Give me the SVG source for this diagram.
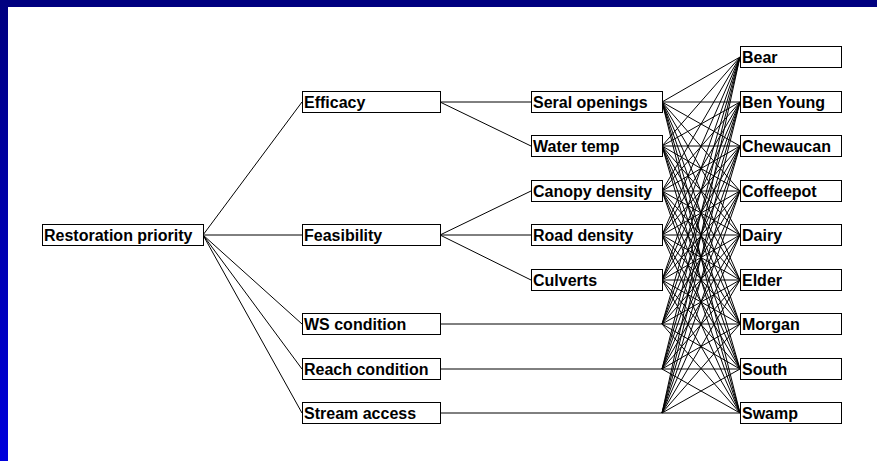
<svg xmlns="http://www.w3.org/2000/svg" width="877" height="461" viewBox="0 0 877 461">
  <defs>
    <linearGradient id="sideBand" x1="0" y1="0" x2="0" y2="1">
      <stop offset="0" stop-color="#000080"/>
      <stop offset="1" stop-color="#0000dc"/>
    </linearGradient>
    <style>
      .box { fill: #ffffff; stroke: #000000; stroke-width: 1; }
      .lbl { font-family: "Liberation Sans", Arial, sans-serif; font-weight: bold; font-size: 16px; fill: #000000; }
      .wire { stroke: #000000; stroke-width: 1; fill: none; }
    </style>
  </defs>

  <!-- page background with blue frame bands -->
  <rect x="0" y="0" width="877" height="461" fill="#ffffff"/>
  <rect x="0" y="0" width="877" height="7" fill="#000080"/>
  <rect x="0" y="0" width="8" height="461" fill="url(#sideBand)"/>

  <!-- connectors -->
  <g id="connectors" class="wire">
    <!-- root to criteria -->
    <line x1="203" y1="235" x2="302" y2="102"/>
    <line x1="203" y1="235" x2="302" y2="235"/>
    <line x1="203" y1="235" x2="302" y2="324"/>
    <line x1="203" y1="235" x2="302" y2="369"/>
    <line x1="203" y1="235" x2="302" y2="413"/>
    <!-- efficacy sub-criteria -->
    <line x1="440" y1="102" x2="531" y2="102"/>
    <line x1="440" y1="102" x2="531" y2="146"/>
    <!-- feasibility sub-criteria -->
    <line x1="440" y1="235" x2="531" y2="191"/>
    <line x1="440" y1="235" x2="531" y2="235"/>
    <line x1="440" y1="235" x2="531" y2="280"/>
    <!-- direct criteria carried through -->
    <line x1="440" y1="324" x2="662" y2="324"/>
    <line x1="440" y1="369" x2="662" y2="369"/>
    <line x1="440" y1="413" x2="662" y2="413"/>
    <!-- every criterion to every watershed -->
    <g id="fan">
      <path d="M662 102 L740 57 M662 102 L740 102 M662 102 L740 146 M662 102 L740 191 M662 102 L740 235 M662 102 L740 280 M662 102 L740 324 M662 102 L740 369 M662 102 L740 413"/>
      <path d="M662 146 L740 57 M662 146 L740 102 M662 146 L740 146 M662 146 L740 191 M662 146 L740 235 M662 146 L740 280 M662 146 L740 324 M662 146 L740 369 M662 146 L740 413"/>
      <path d="M662 191 L740 57 M662 191 L740 102 M662 191 L740 146 M662 191 L740 191 M662 191 L740 235 M662 191 L740 280 M662 191 L740 324 M662 191 L740 369 M662 191 L740 413"/>
      <path d="M662 235 L740 57 M662 235 L740 102 M662 235 L740 146 M662 235 L740 191 M662 235 L740 235 M662 235 L740 280 M662 235 L740 324 M662 235 L740 369 M662 235 L740 413"/>
      <path d="M662 280 L740 57 M662 280 L740 102 M662 280 L740 146 M662 280 L740 191 M662 280 L740 235 M662 280 L740 280 M662 280 L740 324 M662 280 L740 369 M662 280 L740 413"/>
      <path d="M662 324 L740 57 M662 324 L740 102 M662 324 L740 146 M662 324 L740 191 M662 324 L740 235 M662 324 L740 280 M662 324 L740 324 M662 324 L740 369 M662 324 L740 413"/>
      <path d="M662 369 L740 57 M662 369 L740 102 M662 369 L740 146 M662 369 L740 191 M662 369 L740 235 M662 369 L740 280 M662 369 L740 324 M662 369 L740 369 M662 369 L740 413"/>
      <path d="M662 413 L740 57 M662 413 L740 102 M662 413 L740 146 M662 413 L740 191 M662 413 L740 235 M662 413 L740 280 M662 413 L740 324 M662 413 L740 369 M662 413 L740 413"/>
    </g>
  </g>

  <!-- goal -->
  <g id="restoration-priority"><rect class="box" x="42.5" y="224.5" width="161" height="21"/><text class="lbl" x="44" y="241">Restoration priority</text></g>

  <!-- criteria -->
  <g id="efficacy"><rect class="box" x="302.5" y="91.5" width="138" height="21"/><text class="lbl" x="304" y="108">Efficacy</text></g>
  <g id="feasibility"><rect class="box" x="302.5" y="224.5" width="138" height="21"/><text class="lbl" x="304" y="241">Feasibility</text></g>
  <g id="ws-condition"><rect class="box" x="302.5" y="313.5" width="138" height="21"/><text class="lbl" x="304" y="330">WS condition</text></g>
  <g id="reach-condition"><rect class="box" x="302.5" y="358.5" width="138" height="21"/><text class="lbl" x="304" y="375">Reach condition</text></g>
  <g id="stream-access"><rect class="box" x="302.5" y="402.5" width="138" height="21"/><text class="lbl" x="304" y="419">Stream access</text></g>

  <!-- sub-criteria -->
  <g id="seral-openings"><rect class="box" x="531.5" y="91.5" width="131" height="21"/><text class="lbl" x="533" y="108">Seral openings</text></g>
  <g id="water-temp"><rect class="box" x="531.5" y="135.5" width="131" height="21"/><text class="lbl" x="533" y="152">Water temp</text></g>
  <g id="canopy-density"><rect class="box" x="531.5" y="180.5" width="131" height="21"/><text class="lbl" x="533" y="197">Canopy density</text></g>
  <g id="road-density"><rect class="box" x="531.5" y="224.5" width="131" height="21"/><text class="lbl" x="533" y="241">Road density</text></g>
  <g id="culverts"><rect class="box" x="531.5" y="269.5" width="131" height="21"/><text class="lbl" x="533" y="286">Culverts</text></g>

  <!-- watersheds -->
  <g id="bear"><rect class="box" x="740.5" y="46.5" width="101" height="21"/><text class="lbl" x="742" y="63">Bear</text></g>
  <g id="ben-young"><rect class="box" x="740.5" y="91.5" width="101" height="21"/><text class="lbl" x="742" y="108">Ben Young</text></g>
  <g id="chewaucan"><rect class="box" x="740.5" y="135.5" width="101" height="21"/><text class="lbl" x="742" y="152">Chewaucan</text></g>
  <g id="coffeepot"><rect class="box" x="740.5" y="180.5" width="101" height="21"/><text class="lbl" x="742" y="197">Coffeepot</text></g>
  <g id="dairy"><rect class="box" x="740.5" y="224.5" width="101" height="21"/><text class="lbl" x="742" y="241">Dairy</text></g>
  <g id="elder"><rect class="box" x="740.5" y="269.5" width="101" height="21"/><text class="lbl" x="742" y="286">Elder</text></g>
  <g id="morgan"><rect class="box" x="740.5" y="313.5" width="101" height="21"/><text class="lbl" x="742" y="330">Morgan</text></g>
  <g id="south"><rect class="box" x="740.5" y="358.5" width="101" height="21"/><text class="lbl" x="742" y="375">South</text></g>
  <g id="swamp"><rect class="box" x="740.5" y="402.5" width="101" height="21"/><text class="lbl" x="742" y="419">Swamp</text></g>
</svg>
